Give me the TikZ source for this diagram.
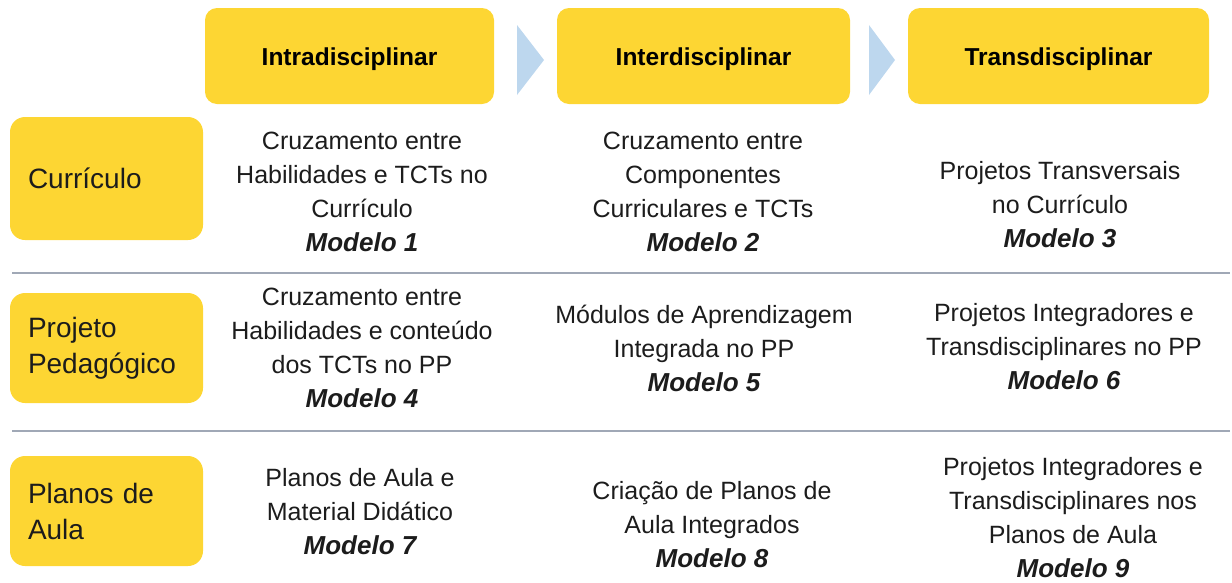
\documentclass[tikz,border=0pt]{standalone}
\usepackage{fontspec}
\setmainfont{Liberation Sans}
\definecolor{boxyellow}{RGB}{253,214,51}
\definecolor{arrowblue}{RGB}{189,215,238}
\definecolor{sepgray}{RGB}{160,168,182}
\definecolor{txt}{RGB}{28,28,28}
\newcommand\modelo[1]{{\fontsize{26}{34}\selectfont\bfseries\itshape Modelo #1}}
\begin{document}
\begin{tikzpicture}[x=1pt,y=-1pt,
  hdr/.style={fill=boxyellow, rounded corners=12pt, minimum height=96pt, inner sep=0pt,
    text height=19.6pt, text depth=0pt,
    font=\fontsize{24.5}{28}\selectfont\bfseries, text=black},
  lbl/.style={fill=boxyellow, rounded corners=15pt, minimum width=193pt, inner xsep=18pt,
    text width=157pt, align=left, font=\fontsize{28}{36}\selectfont, text=txt},
  cell/.style={align=center, font=\fontsize{25}{34}\selectfont, text=txt, inner sep=0pt},
  sep/.style={draw=sepgray, line width=2.5pt},
  chev/.style={fill=arrowblue}]
\useasboundingbox (0,0) rectangle (1232,582);
% headers
\node[hdr, minimum width=289pt] (h1) at (349.5,56) {Intradisciplinar};
\node[hdr, minimum width=293pt] (h2) at (703.5,56) {Interdisciplinar};
\node[hdr, minimum width=301pt] (h3) at (1058.5,56) {Transdisciplinar};
\fill[chev] (517,25) -- (544,60) -- (517,95) -- cycle;
\fill[chev] (869,25) -- (895,60) -- (869,95) -- cycle;
% row labels
\node[lbl, minimum height=123pt] (r1) at (106.5,178.5) {Currículo};
\node[lbl, minimum height=110pt] (r2) at (106.5,348) {Projeto\\Pedagógico};
\node[lbl, minimum height=110pt] (r3) at (106.5,511) {Planos de\\Aula};
% separators
\coordinate (s1a) at (12,273); \coordinate (s1b) at (1230,273);
\coordinate (s2a) at (12,431); \coordinate (s2b) at (1230,431);
\draw[sep] (s1a) -- (s1b);
\draw[sep] (s2a) -- (s2b);
% cells
\node[cell] (c11) at (362,192) {Cruzamento entre\\Habilidades e TCTs no\\Currículo\\\modelo{1}};
\node[cell] (c12) at (703,192) {Cruzamento entre\\Componentes\\Curriculares e TCTs\\\modelo{2}};
\node[cell] (c13) at (1060,205) {Projetos Transversais\\no Currículo\\\modelo{3}};
\node[cell] (c21) at (362,348) {Cruzamento entre\\Habilidades e conteúdo\\dos TCTs no PP\\\modelo{4}};
\node[cell] (c22) at (704,348) {Módulos de Aprendizagem\\Integrada no PP\\\modelo{5}};
\node[cell] (c23) at (1064,347) {Projetos Integradores e\\Transdisciplinares no PP\\\modelo{6}};
\node[cell] (c31) at (360,512) {Planos de Aula e\\Material Didático\\\modelo{7}};
\node[cell] (c32) at (712,524.5) {Criação de Planos de\\Aula Integrados\\\modelo{8}};
\node[cell] (c33) at (1073,518) {Projetos Integradores e\\Transdisciplinares nos\\Planos de Aula\\\modelo{9}};
\end{tikzpicture}
\end{document}
